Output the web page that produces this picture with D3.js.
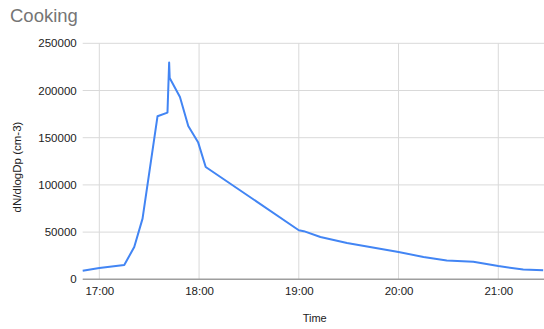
<!DOCTYPE html>
<html>
<head>
<meta charset="utf-8">
<script src="https://cdn.jsdelivr.net/npm/d3@7"></script>
<style>
  html, body { margin: 0; padding: 0; background: #fff; }
  svg { display: block; font-family: Arial, "Liberation Sans", sans-serif; }
</style>
</head>
<body>
<svg id="chart" width="544" height="329"></svg>
<script>
const title = "Cooking";
const xTitle = "Time";
const yTitle = "dN/dlogDp (cm-3)";

const times = ["16:50","17:00","17:15","17:21","17:26","17:35","17:41","17:42","17:42:20",
  "17:48:30","17:53:30","17:59:30","18:04","19:00","19:03","19:13","19:29","20:00","20:15",
  "20:29","20:45","21:00","21:15","21:27"];
const values = [9000,12000,15100,34200,64300,172700,176600,229600,213200,
  193100,162400,144800,119000,52000,51000,44800,38500,29000,23600,
  20000,18500,14000,10300,9500];

const yTicks = [0,50000,100000,150000,200000,250000];
const xTickLabels = ["17:00","18:00","19:00","20:00","21:00"];

const parse = s => {
  const p = s.split(":").map(Number);
  return new Date(2020, 0, 1, p[0], p[1], p[2] || 0);
};

const data = times.map((t, i) => ({ t: parse(t), v: values[i] }));

const svg = d3.select("#chart");
const pL = 82.7, pR = 544, pT = 43.3, pB = 279.3;

const x = d3.scaleTime()
  .domain([parse("16:50"), parse("21:27:30")])
  .range([pL, pR]);
const y = d3.scaleLinear().domain([0, 250000]).range([pB, pT]);

// horizontal gridlines
svg.append("g").selectAll("line").data(yTicks.filter(d => d > 0)).join("line")
  .attr("x1", pL).attr("x2", 544)
  .attr("y1", d => y(d)).attr("y2", d => y(d))
  .attr("stroke", "#d9d9d9").attr("stroke-width", 1);

// vertical gridlines
svg.append("g").selectAll("line").data(xTickLabels).join("line")
  .attr("x1", d => x(parse(d))).attr("x2", d => x(parse(d)))
  .attr("y1", pT).attr("y2", pB)
  .attr("stroke", "#d9d9d9").attr("stroke-width", 1);

// y axis labels
const yAxis = d3.axisLeft(y).tickValues(yTicks).tickSize(0).tickPadding(6)
  .tickFormat(d3.format("d"));
const gy = svg.append("g").attr("transform", `translate(${pL},0)`).call(yAxis);
gy.select(".domain").remove();
gy.selectAll("text").attr("font-size", "11.5px").attr("fill", "#222")
  .attr("font-family", "Arial, 'Liberation Sans', sans-serif");

// x axis labels
const xAxis = d3.axisBottom(x).tickValues(xTickLabels.map(parse)).tickSize(0).tickPadding(8)
  .tickFormat(d3.timeFormat("%H:%M"));
const gx = svg.append("g").attr("transform", `translate(0,${pB})`).call(xAxis);
gx.select(".domain").remove();
gx.selectAll("text").attr("font-size", "11.5px").attr("fill", "#222")
  .attr("font-family", "Arial, 'Liberation Sans', sans-serif");

// baseline
svg.append("line").attr("x1", pL).attr("x2", 544)
  .attr("y1", y(0)).attr("y2", y(0))
  .attr("stroke", "#9e9e9e").attr("stroke-width", 1.5);

// line
const line = d3.line().x(d => x(d.t)).y(d => y(d.v));
svg.append("path").datum(data)
  .attr("d", line)
  .attr("fill", "none")
  .attr("stroke", "#4285f4")
  .attr("stroke-width", 2)
  .attr("stroke-linejoin", "round");

// title
svg.append("text").attr("x", 10).attr("y", 22)
  .attr("font-size", "18.5px").attr("fill", "#757575").text(title);

// axis titles
svg.append("text").attr("x", 314.7).attr("y", 322)
  .attr("text-anchor", "middle").attr("font-size", "11px").attr("fill", "#222").text(xTitle);
svg.append("text").attr("transform", "translate(20.5,167) rotate(-90)")
  .attr("text-anchor", "middle").attr("font-size", "11.5px").attr("fill", "#222").text(yTitle);
</script>
</body>
</html>
